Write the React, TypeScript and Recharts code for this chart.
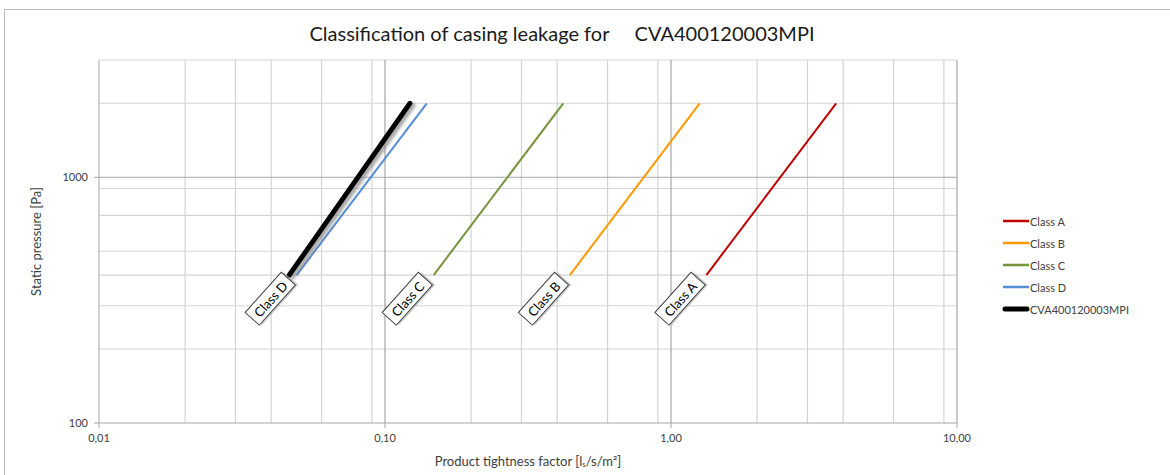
import React from 'react';
import { LineChart, Line, XAxis, YAxis, CartesianGrid, Legend, Label, LabelList } from 'recharts';

const pressures = [400, 2000];
const classA = [1.33, 3.78];
const classB = [0.443, 1.26];
const classC = [0.148, 0.42];
const classD = [0.0491, 0.14];
const product = [0.0463, 0.1223];

const seriesNames = ['Class A', 'Class B', 'Class C', 'Class D', 'CVA400120003MPI'];
const seriesColors = ['#C00000', '#FF9900', '#77933C', '#558ED5', '#000000'];
const labelNames = ['Class A', 'Class B', 'Class C', 'Class D', ''];

const xTicks = [0.01, 0.1, 1, 10];
const yTicks = [100, 1000];
const xMinorGrid = [0.02, 0.03, 0.04, 0.05, 0.06, 0.07, 0.08, 0.09, 0.2, 0.3, 0.4, 0.5, 0.6, 0.7, 0.8, 0.9, 2, 3, 4, 5, 6, 7, 8, 9];
const xMajorGrid = [0.1, 1, 10];
const yMinorGrid = [200, 300, 400, 500, 600, 700, 800, 900, 2000, 3000];
const yMajorGrid = [1000];

const titleText = 'Classification of casing leakage for     CVA400120003MPI';

const build = (xs: number[]) => pressures.map((p, i) => ({ x: xs[i], y: p }));
const allSeries = [classA, classB, classC, classD, product].map(build);

const FONT = 'Lato, "Open Sans", sans-serif';

const ClassTag = (name: string) => (props: any) => {
  const { x, y, index } = props;
  if (index !== 0 || !name) return null;
  const cx = x - 26;
  const cy = y + 24;
  return (
    <g transform={`translate(${cx},${cy}) rotate(-48)`}>
      <rect x={-25} y={-8} width={54} height={19} fill="#9a9a9a" opacity={0.5} />
      <rect x={-27} y={-10} width={54} height={19} fill="#ffffff" stroke="#404040" strokeWidth={1} />
      <text x={0} y={0} textAnchor="middle" dominantBaseline="central" fontSize={13} fill="#000" fontFamily={FONT}>
        {name}
      </text>
    </g>
  );
};

const LegendContent = () => (
  <div style={{ fontFamily: FONT, fontSize: 11, color: '#404040' }}>
    {seriesNames.map((n, i) => (
      <div key={n} style={{ display: 'flex', alignItems: 'center', height: 22 }}>
        <svg width={28} height={8} style={{ display: 'block' }}>
          <line x1={i === 4 ? 3 : 1} y1={4} x2={i === 4 ? 25 : 27} y2={4} stroke={seriesColors[i]} strokeWidth={i === 4 ? 5 : 2.5} strokeLinecap={i === 4 ? 'round' : 'butt'} />
        </svg>
        <span>{n}</span>
      </div>
    ))}
  </div>
);

const fmtX = (v: number) => v.toFixed(2).replace('.', ',');

const YLabel = (props: any) => {
  const { viewBox } = props;
  const x = viewBox.x - 3;
  const y = viewBox.y + viewBox.height / 2;
  return (
    <text x={x} y={y} transform={`rotate(-90, ${x}, ${y})`} textAnchor="middle" dominantBaseline="central" fontSize={13} fill="#404040" fontFamily={FONT}>
      Static pressure [Pa]
    </text>
  );
};

const XLabel = (props: any) => {
  const { viewBox } = props;
  const x = viewBox.x + viewBox.width / 2;
  const y = viewBox.y + 38;
  return (
    <text x={x} y={y} textAnchor="middle" dominantBaseline="central" fontSize={13} fill="#404040" fontFamily={FONT}>
      Product tightness factor [l
      <tspan fontSize={8} dy={3}>s</tspan>
      <tspan dy={-3}>/s/m²]</tspan>
    </text>
  );
};

export default function App() {
  return (
    <div style={{ position: 'absolute', left: 0, top: 0, width: 1170, height: 475, background: '#fff', fontFamily: FONT, overflow: 'hidden' }}>
      <div style={{ position: 'absolute', left: 4, top: 9, width: 1200, height: 500, borderLeft: '1px solid #bcbcbc', borderTop: '1px solid #bcbcbc' }} />
      <div style={{ position: 'absolute', left: 0, top: 20, width: 1124, textAlign: 'center', fontSize: 20, color: '#1a1a1a', whiteSpace: 'pre', lineHeight: '26px' }}>
        {titleText}
      </div>
      <div style={{ position: 'absolute', left: 0, top: 0 }}>
        <LineChart width={1170} height={475} margin={{ top: 60, right: 213, bottom: 12, left: 39 }}>
          <defs>
            <filter id="lineShadow" x="-20%" y="-20%" width="140%" height="140%">
              <feDropShadow dx={3} dy={2} stdDeviation={1.5} floodColor="#808080" floodOpacity={0.7} />
            </filter>
          </defs>
          <CartesianGrid horizontalValues={yMinorGrid} verticalValues={xMinorGrid} stroke="#d4d4d4" strokeWidth={1.2} fill="none" />
          <CartesianGrid horizontalValues={yMajorGrid} verticalValues={xMajorGrid} stroke="#a6a6a6" strokeWidth={1.2} fill="none" />
          <XAxis
            dataKey="x"
            type="number"
            scale="log"
            domain={[0.01, 10]}
            allowDataOverflow
            ticks={xTicks}
            tickFormatter={fmtX}
            height={40}
            stroke="#a6a6a6"
            tickSize={5}
            tick={{ fontSize: 11, fill: '#404040' }}
            tickMargin={6}
          >
            <Label content={XLabel} />
          </XAxis>
          <YAxis
            dataKey="y"
            type="number"
            scale="log"
            domain={[100, 3000]}
            allowDataOverflow
            ticks={yTicks}
            width={60}
            stroke="#a6a6a6"
            tickSize={5}
            tick={{ fontSize: 11, fill: '#404040' }}
            tickMargin={6}
          >
            <Label content={YLabel} />
          </YAxis>
          {allSeries.map((d, i) => (
            <Line
              key={seriesNames[i]}
              data={d}
              dataKey="y"
              name={seriesNames[i]}
              stroke={seriesColors[i]}
              strokeWidth={i === 4 ? 5 : 2}
              strokeLinecap={i === 4 ? 'round' : 'butt'}
              filter={i === 4 ? 'url(#lineShadow)' : undefined}
              dot={false}
              activeDot={false}
              isAnimationActive={false}
            >
              <LabelList dataKey="y" content={ClassTag(labelNames[i])} />
            </Line>
          ))}
          <Legend layout="horizontal" align="center" verticalAlign="middle" wrapperStyle={{ position: 'absolute', left: 1002, top: 210, width: 160 }} content={LegendContent} />
        </LineChart>
      </div>
    </div>
  );
}
